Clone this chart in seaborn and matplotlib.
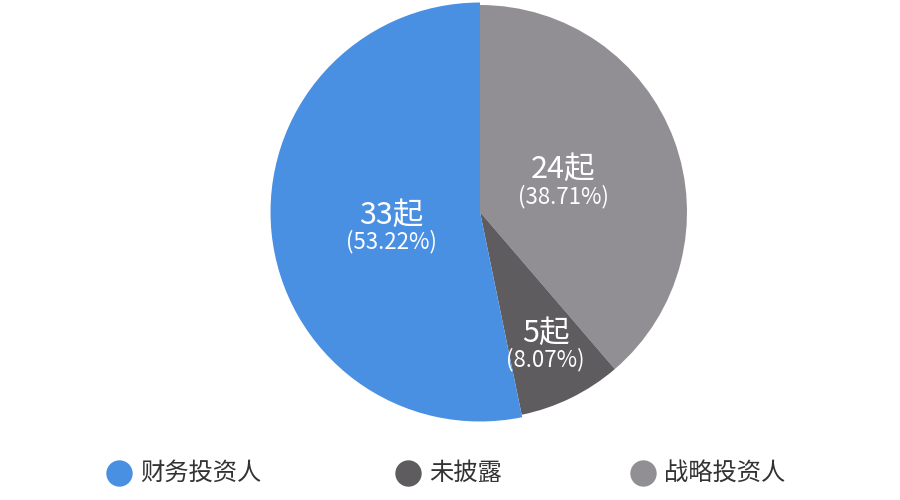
import matplotlib
matplotlib.use("Agg")
import matplotlib.pyplot as plt
import seaborn as sns
import numpy as np
from matplotlib.lines import Line2D

sns.set_theme(style="white")
plt.rcParams['font.family'] = ['Noto Sans CJK SC', 'DejaVu Sans']

categories = ["战略投资人", "未披露", "财务投资人"]
counts = [24, 5, 33]
pct_labels = ["38.71%", "8.07%", "53.22%"]
colors = ["#928f94", "#5f5c60", "#4a90e2"]
legend_order = ["财务投资人", "未披露", "战略投资人"]

fig = plt.figure(figsize=(9, 5), dpi=100)
fig.patch.set_facecolor("white")
cx, cy, r = 480, 212, 207
ax = fig.add_axes([(cx - r) / 900, (500 - cy - r) / 500, 2 * r / 900, 2 * r / 500])

wedges, _ = ax.pie(counts, colors=colors, startangle=90, counterclock=False,
                   radius=1.0, wedgeprops=dict(linewidth=0))
wedges[2].set_radius(1.012)
ax.set_xlim(-1, 1)
ax.set_ylim(-1, 1)
ax.set_aspect("equal")
ax.axis("off")

dists = [0.43, 0.72, 0.43]
dys = [-0.005, 0.0, -0.033]
for w, c, p, d, dy in zip(wedges, counts, pct_labels, dists, dys):
    ang = np.deg2rad((w.theta1 + w.theta2) / 2)
    x, y = d * np.cos(ang), d * np.sin(ang) + dy
    ax.text(x, y + 0.06, f"{c}起", ha="center", va="center", color="white", fontsize=22)
    ax.text(x, y - 0.068, f"({p})", ha="center", va="center", color="white", fontsize=16)

# legend entries placed manually
cmap = dict(zip(categories, colors))
leg_x = [119, 408, 643]
leg_y = 1 - 473 / 500
for k, lx in zip(legend_order, leg_x):
    fig.add_artist(Line2D([lx / 900], [leg_y], marker="o", linestyle="none", markersize=19,
                          markerfacecolor=cmap[k], markeredgewidth=0,
                          transform=fig.transFigure))
    fig.text((lx + 21) / 900, leg_y, k, ha="left", va="center", fontsize=17.5, color="#333333")

fig.savefig("out.png", dpi=100, facecolor="white")
